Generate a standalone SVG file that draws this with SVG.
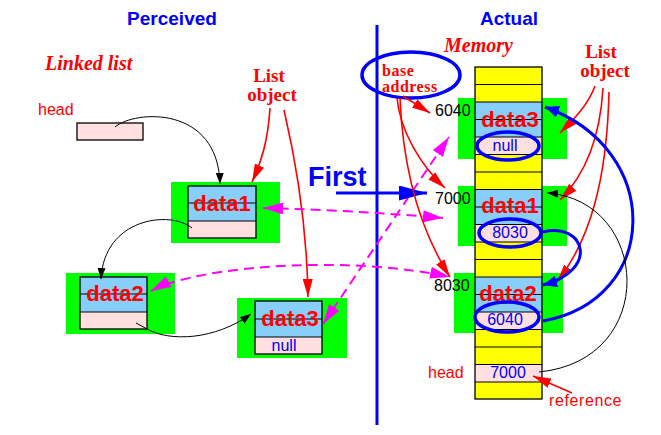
<svg xmlns="http://www.w3.org/2000/svg" width="661" height="435" viewBox="0 0 661 435">
<style>
.grn{fill:#00ff00}
.blu{fill:#87cefa}
.pnk{fill:#ffdfdf}
.box{fill:none;stroke:#000;stroke-width:1.3}
.ln{stroke:#000;stroke-width:1.2}
.dt{font-family:"Liberation Sans",Arial,sans-serif;font-weight:bold;font-size:22px;fill:#ff0000;text-anchor:middle}
.bv{font-family:"Liberation Sans",Arial,sans-serif;font-size:16px;fill:#0000ff;text-anchor:middle}
.num{font-family:"Liberation Sans",Arial,sans-serif;font-size:16px;fill:#000}
.rs{font-family:"Liberation Sans",Arial,sans-serif;font-size:16px;fill:#ff0000}
.ttl{font-family:"Liberation Sans",Arial,sans-serif;font-weight:bold;font-size:19px;fill:#0000ff;text-anchor:middle}
.ser{font-family:"Liberation Serif","Times New Roman",serif;font-weight:bold;fill:#ff0000}
.red{fill:none;stroke:#ff0000;stroke-width:1.6}
.mag{fill:none;stroke:#ff00ff;stroke-width:2;stroke-dasharray:10 6}
.blc{fill:none;stroke:#000;stroke-width:1}
.bc{fill:none;stroke:#0000ff;stroke-width:3}
.ell{fill:none;stroke:#0000ff;stroke-width:3.5}
</style>
<defs>
<marker id="aR" viewBox="0 0 18 10" refX="18" refY="5" markerWidth="18" markerHeight="10" markerUnits="userSpaceOnUse" orient="auto"><path d="M0,0 L18,5 L0,10 z" fill="#ff0000"/></marker>
<marker id="aM" viewBox="0 0 20 12" refX="20" refY="6" markerWidth="20" markerHeight="12" markerUnits="userSpaceOnUse" orient="auto-start-reverse"><path d="M0,0 L20,6 L0,12 z" fill="#ff00ff"/></marker>
<marker id="aB" viewBox="0 0 14 12" refX="14" refY="6" markerWidth="14" markerHeight="12" markerUnits="userSpaceOnUse" orient="auto"><path d="M0,0 L14,6 L0,12 z" fill="#0000ff"/></marker>
<marker id="aBF" viewBox="0 0 28 15" refX="28" refY="7.5" markerWidth="28" markerHeight="15" markerUnits="userSpaceOnUse" orient="auto"><path d="M0,0 L28,7.5 L0,15 z" fill="#0000ff"/></marker>
<marker id="aK" viewBox="0 0 11 8" refX="11" refY="4" markerWidth="11" markerHeight="8" markerUnits="userSpaceOnUse" orient="auto"><path d="M0,0 L11,4 L0,8 z" fill="#000"/></marker>
</defs>
<rect width="661" height="435" fill="#fff"/>

<!-- titles and labels -->
<g id="titles">
<text class="ttl" x="172" y="25">Perceived</text>
<text class="ttl" x="509" y="25">Actual</text>
<text class="ser" x="45" y="70" font-size="20" font-style="italic">Linked list</text>
<text class="ser" x="444" y="52" font-size="20" font-style="italic">Memory</text>
<text class="ser" x="269" y="82" font-size="19" text-anchor="middle">List</text>
<text class="ser" x="272" y="101" font-size="19" text-anchor="middle">object</text>
<text class="ser" x="601" y="58" font-size="19" text-anchor="middle">List</text>
<text class="ser" x="605" y="77" font-size="19" text-anchor="middle">object</text>
<text class="ser" x="382" y="76" font-size="16" letter-spacing="0.5">base</text>
<text class="ser" x="382" y="92" font-size="16" letter-spacing="0.5">address</text>
<text x="308" y="186" font-family="Liberation Sans,Arial,sans-serif" font-weight="bold" font-size="27" fill="#0000ff">First</text>
</g>

<line id="divider" x1="377" y1="25" x2="377" y2="425" stroke="#0000ff" stroke-width="3"/>

<!-- Perceived side -->
<g id="head-left">
<text class="rs" x="38" y="115">head</text>
<rect x="77" y="123" width="66" height="17" class="pnk" stroke="#000" stroke-width="1.3"/>
</g>
<g id="node-data1">
<rect x="171" y="182" width="109" height="61" class="grn"/>
<rect x="188" y="186" width="68" height="35" class="blu"/>
<rect x="188" y="221" width="68" height="17" class="pnk"/>
<line x1="188" y1="203" x2="256" y2="203" class="ln"/>
<line x1="188" y1="221" x2="256" y2="221" class="ln"/>
<rect x="188" y="186" width="68" height="52" class="box"/>
<text class="dt" x="222" y="211">data1</text>
</g>
<g id="node-data2">
<rect x="66" y="273" width="109" height="61" class="grn"/>
<rect x="80" y="277" width="67" height="35" class="blu"/>
<rect x="80" y="312" width="67" height="17" class="pnk"/>
<line x1="80" y1="294" x2="147" y2="294" class="ln"/>
<line x1="80" y1="312" x2="147" y2="312" class="ln"/>
<rect x="80" y="277" width="67" height="52" class="box"/>
<text class="dt" x="115" y="301">data2</text>
</g>
<g id="node-data3">
<rect x="237" y="298" width="110" height="60" class="grn"/>
<rect x="255" y="301" width="67" height="36" class="blu"/>
<rect x="255" y="337" width="67" height="17" class="pnk"/>
<line x1="255" y1="319" x2="322" y2="319" class="ln"/>
<line x1="255" y1="337" x2="322" y2="337" class="ln"/>
<rect x="255" y="301" width="67" height="53" class="box"/>
<text class="dt" x="290" y="326">data3</text>
<text class="bv" x="284" y="351" font-size="17">null</text>
</g>

<!-- Actual side: memory -->
<g id="memory">
<rect x="458" y="98" width="109" height="61" class="grn"/>
<rect x="458" y="186" width="109" height="60" class="grn"/>
<rect x="454" y="273" width="109" height="60" class="grn"/>
<rect x="475" y="67" width="67" height="332" fill="#ffff00"/>
<rect x="475" y="102" width="67" height="35" class="blu"/>
<rect x="475" y="137" width="67" height="17.5" class="pnk"/>
<rect x="475" y="189" width="67" height="35" class="blu"/>
<rect x="475" y="224" width="67" height="18" class="pnk"/>
<rect x="475" y="277" width="67" height="35" class="blu"/>
<rect x="475" y="312" width="67" height="17" class="pnk"/>
<rect x="475" y="364" width="67" height="18" class="pnk"/>
<path class="ln" d="M475,84.5H542M475,102H542M475,119.5H542M475,137H542M475,154.5H542M475,172H542M475,189.5H542M475,207H542M475,224.5H542M475,242H542M475,259.5H542M475,277H542M475,294.5H542M475,312H542M475,329.5H542M475,347H542M475,364.5H542M475,382H542"/>
<rect x="475" y="67" width="67" height="332" class="box"/>
<text class="dt" x="510" y="127">data3</text>
<text class="dt" x="510" y="213">data1</text>
<text class="dt" x="508" y="301">data2</text>
<text class="bv" x="505" y="151" font-size="17">null</text>
<text class="bv" x="510" y="238">8030</text>
<text class="bv" x="505" y="325">6040</text>
<text class="bv" x="508" y="378">7000</text>
<text class="num" x="435" y="116">6040</text>
<text class="num" x="435" y="204">7000</text>
<text class="num" x="434" y="291">8030</text>
<text class="rs" x="428" y="378">head</text>
<text class="rs" x="549" y="406" font-size="15" letter-spacing="0.6">reference</text>
<ellipse cx="508" cy="146" rx="31" ry="14" class="ell"/>
<ellipse cx="510" cy="233" rx="31" ry="14" class="ell"/>
<ellipse cx="507" cy="317" rx="32" ry="15" class="ell"/>
<ellipse cx="411" cy="75" rx="49" ry="23" class="ell"/>
</g>

<!-- connectors -->
<g id="connectors">
<path class="blc" d="M115,127 C135,110 218,105 220,184" marker-end="url(#aK)"/>
<path class="blc" d="M192,228 C170,210 104,218 101,279" marker-end="url(#aK)"/>
<path class="blc" d="M136,323 L147,329 C170,342 215,340 251,314" marker-end="url(#aK)"/>
<path class="red" d="M270,108 C268,140 262,160 252,182" marker-end="url(#aR)"/>
<path class="red" d="M284,110 C298,170 307,230 308,297" marker-end="url(#aR)"/>
<path class="mag" d="M263,208 Q350,210 443,218" marker-start="url(#aM)" marker-end="url(#aM)"/>
<path class="mag" d="M151,291 C200,265 350,255 450,277" marker-start="url(#aM)" marker-end="url(#aM)"/>
<path class="mag" d="M323,324 L449,137" marker-start="url(#aM)" marker-end="url(#aM)"/>
<path class="bc" d="M336,193 L427,193" marker-end="url(#aBF)"/>
<path class="red" d="M403,96 L430,113" marker-end="url(#aR)"/>
<path class="red" d="M397,98 C400,130 420,165 445,188" marker-end="url(#aR)"/>
<path class="red" d="M400,98 C403,170 420,230 450,277" marker-end="url(#aR)"/>
<path class="red" d="M595,86 C588,105 575,118 560,133" marker-end="url(#aR)"/>
<path class="red" d="M603,88 C600,140 585,175 560,200" marker-end="url(#aR)"/>
<path class="red" d="M609,92 C607,180 590,240 557,282" marker-end="url(#aR)"/>
<path class="bc" d="M543,232 C585,222 600,270 543,285" marker-end="url(#aB)"/>
<path class="bc" d="M543,321 C660,300 665,150 545,107" marker-end="url(#aB)"/>
<path class="blc" d="M539,372 C660,360 650,200 547,193" marker-end="url(#aK)"/>
<path class="red" stroke-width="2" d="M572,393 L533,376" marker-end="url(#aR)"/>
</g>
</svg>
